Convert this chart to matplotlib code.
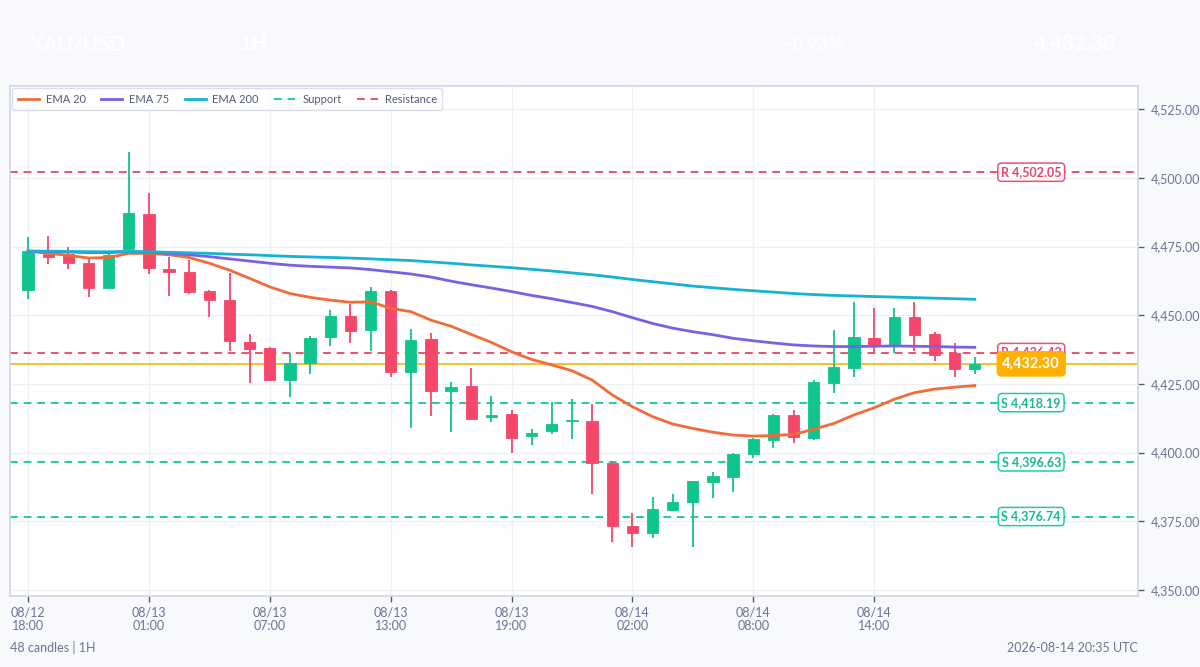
import numpy as np
import matplotlib
matplotlib.use("Agg")
import matplotlib.pyplot as plt

plt.rcParams['font.family'] = ['Lato', 'DejaVu Sans']

# hourly candles
opens = [4459.3, 4472.2, 4472.1, 4469.0, 4460.0, 4474.2, 4486.9, 4466.8, 4465.8, 4458.7,
         4455.4, 4440.3, 4437.9, 4426.4, 4432.5, 4441.9, 4449.7, 4444.6, 4458.8, 4429.4,
         4441.2, 4422.5, 4424.2, 4412.8, 4414.0, 4406.1, 4408.0, 4411.4, 4411.6, 4396.2,
         4373.4, 4370.6, 4379.1, 4382.1, 4389.4, 4391.2, 4399.6, 4404.5, 4413.7, 4405.4,
         4425.4, 4430.7, 4441.8, 4439.5, 4449.2, 4443.0, 4436.3, 4430.5]
highs = [4478.5, 4478.8, 4474.7, 4470.7, 4472.5, 4509.5, 4494.5, 4471.3, 4470.1, 4459.2,
         4465.4, 4443.0, 4438.5, 4436.3, 4442.4, 4451.9, 4454.1, 4460.3, 4459.3, 4445.0,
         4443.4, 4425.6, 4430.7, 4420.7, 4415.5, 4408.5, 4418.3, 4419.5, 4417.7, 4397.0,
         4377.9, 4384.0, 4384.8, 4389.8, 4392.8, 4400.0, 4405.3, 4414.0, 4415.4, 4426.4,
         4444.6, 4454.9, 4452.5, 4452.7, 4454.8, 4443.8, 4440.0, 4434.7]
lows = [4456.0, 4468.6, 4466.7, 4456.5, 4459.8, 4472.1, 4464.9, 4457.1, 4457.9, 4449.4,
        4437.1, 4425.4, 4426.2, 4420.1, 4428.5, 4438.8, 4439.8, 4437.1, 4427.4, 4408.8,
        4413.4, 4407.4, 4411.9, 4411.2, 4400.0, 4402.8, 4406.7, 4405.0, 4384.9, 4367.4,
        4365.5, 4368.8, 4378.9, 4365.5, 4383.4, 4385.7, 4397.9, 4401.8, 4403.4, 4404.6,
        4421.6, 4427.4, 4436.7, 4436.3, 4437.1, 4433.5, 4427.4, 4428.6]
closes = [4473.3, 4471.3, 4469.1, 4459.8, 4471.9, 4487.3, 4467.0, 4465.8, 4458.3, 4455.5,
          4440.5, 4437.7, 4426.4, 4432.5, 4441.7, 4449.8, 4444.3, 4458.9, 4429.2, 4440.9,
          4422.4, 4424.0, 4412.3, 4413.7, 4405.2, 4407.1, 4410.3, 4411.8, 4396.3, 4373.4,
          4370.6, 4379.5, 4381.9, 4389.5, 4391.6, 4399.4, 4404.8, 4413.7, 4405.6, 4425.8,
          4431.0, 4442.0, 4439.1, 4449.2, 4442.7, 4435.5, 4430.3, 4432.3]

ema20 = [4473.3, 4472.5, 4471.8, 4470.8, 4471.0, 4472.5, 4472.5, 4472.0, 4471.0, 4468.9,
         4466.4, 4463.4, 4460.3, 4457.9, 4456.5, 4455.5, 4454.7, 4454.9, 4452.5, 4451.3,
         4448.2, 4446.0, 4443.0, 4440.1, 4436.7, 4433.9, 4431.9, 4429.8, 4426.4, 4421.0,
         4416.7, 4413.1, 4410.4, 4408.8, 4407.4, 4406.4, 4406.0, 4406.2, 4406.6, 4408.5,
         4410.6, 4413.7, 4416.3, 4419.4, 4421.8, 4423.1, 4423.8, 4424.4]
ema75 = [4473.3, 4473.2, 4473.0, 4472.8, 4472.8, 4473.1, 4472.9, 4472.5, 4472.0, 4471.3,
         4470.5, 4469.7, 4468.9, 4468.2, 4467.8, 4467.5, 4467.2, 4466.6, 4465.8, 4465.0,
         4463.9, 4462.4, 4461.1, 4459.9, 4458.6, 4457.2, 4456.0, 4454.6, 4453.2, 4451.3,
         4449.1, 4447.0, 4445.3, 4444.0, 4442.9, 4441.6, 4440.7, 4439.9, 4439.2, 4438.8,
         4438.6, 4438.6, 4438.7, 4438.8, 4438.7, 4438.6, 4438.4, 4438.3]
ema200 = [4473.3, 4473.3, 4473.2, 4473.1, 4473.1, 4473.2, 4473.1, 4472.9, 4472.7, 4472.5,
          4472.2, 4472.0, 4471.7, 4471.4, 4471.2, 4471.0, 4470.8, 4470.5, 4470.2, 4469.9,
          4469.4, 4468.9, 4468.3, 4467.8, 4467.3, 4466.7, 4466.1, 4465.4, 4464.7, 4463.9,
          4463.0, 4462.2, 4461.4, 4460.6, 4460.0, 4459.4, 4458.9, 4458.4, 4457.9, 4457.5,
          4457.2, 4457.0, 4456.8, 4456.6, 4456.4, 4456.2, 4456.0, 4455.8]

supports = [4418.19, 4396.63, 4376.74]
resistances = [4502.05, 4436.42]
last_price = 4432.30

tick_idx = [0, 6, 12, 18, 24, 30, 36, 42]
tick_labels = ["08/12\n18:00", "08/13\n01:00", "08/13\n07:00", "08/13\n13:00",
               "08/13\n19:00", "08/14\n02:00", "08/14\n08:00", "08/14\n14:00"]
y_ticks = [4350, 4375, 4400, 4425, 4450, 4475, 4500, 4525]

GREEN = "#10C48E"
RED = "#F5476A"
SUP = "#1DCFA0"
RES = "#F0506E"
TXT = "#6E7391"

fig = plt.figure(figsize=(12, 6.67), dpi=100, facecolor="#F8F9FD")
ax = fig.add_axes([0.0083, 0.1064, 0.94, 0.7646])
ax.set_facecolor("white")

x = np.arange(len(opens))
o = np.array(opens); c = np.array(closes)
up = c >= o
cols = np.where(up, GREEN, RED)
bottoms = np.minimum(o, c)
heights = np.maximum(np.abs(c - o), 0.5)
ax.vlines(x, lows, highs, colors=cols, linewidth=1.3, zorder=3)
ax.bar(x, heights, bottom=bottoms, width=0.56, color=cols, edgecolor=cols,
       linewidth=0.6, zorder=4)

ax.plot(x, ema20, color="#F26B38", lw=2, zorder=5, label="EMA 20")
ax.plot(x, ema75, color="#7B5FE6", lw=2, zorder=5, label="EMA 75")
ax.plot(x, ema200, color="#15B2D3", lw=2, zorder=5, label="EMA 200")

lab_x = 49.8
for i, s in enumerate(supports):
    ax.axhline(s, color=SUP, lw=1.4, ls=(0, (4, 3)), zorder=2,
               label="Support" if i == 0 else None)
    ax.text(lab_x, s, "S {:,.2f}".format(s), color="#17B98E", fontsize=9,
            fontweight="bold", ha="center", va="center", zorder=7,
            bbox=dict(boxstyle="round,pad=0.25,rounding_size=0.3", fc="white",
                      ec=SUP, lw=1.1))
for i, r in enumerate(resistances):
    ax.axhline(r, color=RES, lw=1.4, ls=(0, (4, 3)), zorder=2,
               label="Resistance" if i == 0 else None)
    ax.text(lab_x, r, "R {:,.2f}".format(r), color="#E8436A", fontsize=9,
            fontweight="bold", ha="center", va="center", zorder=7,
            bbox=dict(boxstyle="round,pad=0.25,rounding_size=0.3", fc="white",
                      ec=RES, lw=1.1))

ax.axhline(last_price, color="#F7B500", lw=1.2, zorder=2)
ax.text(lab_x, last_price, "{:,.2f}".format(last_price), color="white", fontsize=10.5,
        fontweight="bold", ha="center", va="center", zorder=8,
        bbox=dict(boxstyle="round,pad=0.35,rounding_size=0.3", fc="#FFB000",
                  ec="#FFB000", lw=1))

ax.set_xlim(-0.9, 55.1)
ax.set_ylim(4347.8, 4533.4)
ax.set_xticks(tick_idx)
ax.set_xticklabels(tick_labels)
ax.set_yticks(y_ticks)
ax.set_yticklabels(["{:,.2f}".format(v) for v in y_ticks])
ax.yaxis.tick_right()
ax.tick_params(axis="both", colors="#555A75", labelcolor=TXT, labelsize=9,
               length=4, width=1)
ax.tick_params(axis="y", pad=5)
ax.grid(True, color="#EEF0F6", lw=1, zorder=0)
ax.set_axisbelow(True)
for sp in ax.spines.values():
    sp.set_color("#D3D6EA")
    sp.set_linewidth(1.2)

leg = ax.legend(loc="upper left", ncol=5, fontsize=8, frameon=True,
                bbox_to_anchor=(0.0, 1.0), borderaxespad=0.2, handlelength=1.9,
                columnspacing=1.4, handletextpad=0.6, borderpad=0.5)
leg.get_frame().set_edgecolor("#D3D6EA")
leg.get_frame().set_linewidth(1)
for t in leg.get_texts():
    t.set_color("#555A75")
leg.set_zorder(10)

# header (rendered white on the pale background, as in the source)
fig.text(0.025, 0.925, "XAU/USD", color="white", fontsize=15, fontweight="bold")
fig.text(0.2, 0.925, "1H", color="white", fontsize=15, fontweight="bold")
fig.text(0.655, 0.925, "-0.93%", color="white", fontsize=13, fontweight="bold")
fig.text(0.93, 0.925, "4,432.30", color="white", fontsize=15, fontweight="bold", ha="right")

fig.text(0.0083, 0.022, "48 candles | 1H", color=TXT, fontsize=9)
fig.text(0.948, 0.022, "2026-08-14 20:35 UTC", color=TXT, fontsize=9, ha="right")

fig.savefig("out.png", dpi=100, facecolor=fig.get_facecolor())
